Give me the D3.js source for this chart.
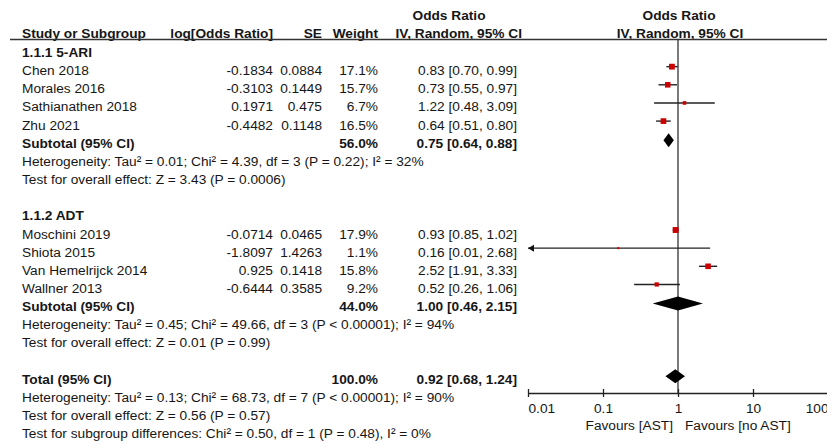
<!DOCTYPE html>
<html>
<head>
<meta charset="utf-8">
<script src="https://cdn.jsdelivr.net/npm/d3@7"></script>
<style>
  body { margin: 0; background: #fff; }
  text { font-family: "Liberation Sans", Arial, sans-serif; font-size: 13.7px; fill: #161616; }
  .b { font-weight: bold; }
</style>
</head>
<body>
<div id="chart"></div>
<script>
const groupNames = ["1.1.1 5-ARI", "1.1.2 ADT"];
const studyNames = ["Chen 2018", "Morales 2016", "Sathianathen 2018", "Zhu 2021",
                    "Moschini 2019", "Shiota 2015", "Van Hemelrijck 2014", "Wallner 2013"];
const studyGroup = [0, 0, 0, 0, 1, 1, 1, 1];
const logOR = [-0.1834, -0.3103, 0.1971, -0.4482, -0.0714, -1.8097, 0.925, -0.6444];
const seValues = [0.0884, 0.1449, 0.475, 0.1148, 0.0465, 1.4263, 0.1418, 0.3585];
const weights = [17.1, 15.7, 6.7, 16.5, 17.9, 1.1, 15.8, 9.2];
const orValues = [0.83, 0.73, 1.22, 0.64, 0.93, 0.16, 2.52, 0.52];
const ciLower = [0.70, 0.55, 0.48, 0.51, 0.85, 0.01, 1.91, 0.26];
const ciUpper = [0.99, 0.97, 3.09, 0.80, 1.02, 2.68, 3.33, 1.06];

const subWeights = [56.0, 44.0];
const subOR = [0.75, 1.00];
const subLower = [0.64, 0.46];
const subUpper = [0.88, 2.15];
const subHet = ["Heterogeneity: Tau² = 0.01; Chi² = 4.39, df = 3 (P = 0.22); I² = 32%",
                "Heterogeneity: Tau² = 0.45; Chi² = 49.66, df = 3 (P < 0.00001); I² = 94%"];
const subTest = ["Test for overall effect: Z = 3.43 (P = 0.0006)",
                 "Test for overall effect: Z = 0.01 (P = 0.99)"];

const totalWeight = 100.0;
const totalOR = 0.92, totalLower = 0.68, totalUpper = 1.24;
const totalNotes = ["Heterogeneity: Tau² = 0.13; Chi² = 68.73, df = 7 (P < 0.00001); I² = 90%",
                    "Test for overall effect: Z = 0.56 (P = 0.57)",
                    "Test for subgroup differences: Chi² = 0.50, df = 1 (P = 0.48), I² = 0%"];

const tickValues = [0.01, 0.1, 1, 10, 100];
const favourLabels = ["Favours [AST]", "Favours [no AST]"];

const W = 827, H = 444;
const svg = d3.select("#chart").append("svg").attr("width", W).attr("height", H);

const x = d3.scaleLog().domain([0.01, 100]).range([528, 828]);
const rowY = i => 57 + 18.15 * i;
const markOff = -8.5;
const axisY = 393;
const colName = 22, colLog = 273, colSE = 322, colW = 378, colCI = 517;
const fmt2 = d3.format(".2f");
const ciText = (o, l, u) => `${fmt2(o)} [${fmt2(l)}, ${fmt2(u)}]`;

function txt(xp, yp, s, anchor, bold) {
  return svg.append("text").attr("x", xp).attr("y", yp)
    .attr("text-anchor", anchor || "start").attr("class", bold ? "b" : null).text(s);
}

// headers
txt(449, 20, "Odds Ratio", "middle", true);
txt(679, 20, "Odds Ratio", "middle", true);
txt(colName, 38, "Study or Subgroup", "start", true);
txt(colLog, 38, "log[Odds Ratio]", "end", true);
txt(colSE, 38, "SE", "end", true);
txt(colW, 38, "Weight", "end", true);
txt(522, 38, "IV, Random, 95% CI", "end", true);
txt(680, 38, "IV, Random, 95% CI", "middle", true);
svg.append("line").attr("x1", 10).attr("x2", W).attr("y1", 39.5).attr("y2", 39.5)
  .attr("stroke", "#333").attr("stroke-width", 1.3);

// reference line
svg.append("line").attr("x1", x(1)).attr("x2", x(1)).attr("y1", 39.5).attr("y2", axisY)
  .attr("stroke", "#333").attr("stroke-width", 1.3);

// rows
const rows = [];
groupNames.forEach((g, gi) => {
  rows.push({ type: "group", gi });
  studyNames.forEach((s, si) => { if (studyGroup[si] === gi) rows.push({ type: "study", si }); });
  rows.push({ type: "sub", gi });
  rows.push({ type: "note", s: subHet[gi] });
  rows.push({ type: "note", s: subTest[gi] });
  rows.push({ type: "blank" });
});
rows.push({ type: "total" });
totalNotes.forEach(s => rows.push({ type: "note", s }));

function diamond(yc, o, l, u) {
  const h = 7;
  svg.append("path")
    .attr("d", `M${x(l)},${yc} L${x(o)},${yc - h} L${x(u)},${yc} L${x(o)},${yc + h} Z`)
    .attr("fill", "#000");
}

rows.forEach((r, i) => {
  const y = rowY(i);
  const ym = y + markOff;
  if (r.type === "group") {
    txt(colName, y, groupNames[r.gi], "start", true);
  } else if (r.type === "study") {
    const k = r.si;
    txt(colName, y, studyNames[k]);
    txt(colLog, y, String(logOR[k]), "end");
    txt(colSE, y, String(seValues[k]), "end");
    txt(colW, y, weights[k].toFixed(1) + "%", "end");
    txt(colCI, y, ciText(orValues[k], ciLower[k], ciUpper[k]), "end");
    const lo = Math.max(ciLower[k], x.domain()[0]);
    const hi = Math.min(ciUpper[k], x.domain()[1]);
    svg.append("line").attr("x1", x(lo)).attr("x2", x(hi)).attr("y1", ym).attr("y2", ym)
      .attr("stroke", "#222").attr("stroke-width", 1.4);
    if (ciLower[k] <= x.domain()[0]) {
      const ax = x(x.domain()[0]);
      svg.append("path").attr("d", `M${ax},${ym} L${ax + 6},${ym - 3.5} L${ax + 6},${ym + 3.5} Z`)
        .attr("fill", "#111");
    }
    const s = Math.max(2, 1.4 * Math.sqrt(weights[k]));
    svg.append("rect").attr("x", x(orValues[k]) - s / 2).attr("y", ym - s / 2)
      .attr("width", s).attr("height", s).attr("fill", "#cc0000");
  } else if (r.type === "sub") {
    txt(colName, y, "Subtotal (95% CI)", "start", true);
    txt(colW, y, subWeights[r.gi].toFixed(1) + "%", "end", true);
    txt(colCI, y, ciText(subOR[r.gi], subLower[r.gi], subUpper[r.gi]), "end", true);
    diamond(ym + 1, subOR[r.gi], subLower[r.gi], subUpper[r.gi]);
  } else if (r.type === "total") {
    txt(colName, y, "Total (95% CI)", "start", true);
    txt(colW, y, totalWeight.toFixed(1) + "%", "end", true);
    txt(colCI, y, ciText(totalOR, totalLower, totalUpper), "end", true);
    diamond(ym + 1, totalOR, totalLower, totalUpper);
  } else if (r.type === "note") {
    txt(colName, y, r.s);
  }
});

// axis
const axis = svg.append("g").attr("transform", `translate(0,${axisY})`)
  .call(d3.axisBottom(x).tickValues(tickValues).tickFormat(d => String(d)).tickSizeOuter(0));
axis.attr("font-size", null).attr("font-family", null);
axis.select(".domain").attr("stroke", "#222").attr("stroke-width", 1.3);
axis.selectAll(".tick line").attr("y1", -4).attr("y2", 4).attr("stroke", "#222").attr("stroke-width", 1.3);
axis.selectAll(".tick text").attr("y", 20).attr("dy", null)
  .attr("fill", "#161616")
  .attr("text-anchor", (d, i) => i === 0 ? "start" : (i === tickValues.length - 1 ? "end" : "middle"));

txt(x(1) - 5, 430, favourLabels[0], "end");
txt(x(1) + 7, 430, favourLabels[1], "start");
</script>
</body>
</html>
